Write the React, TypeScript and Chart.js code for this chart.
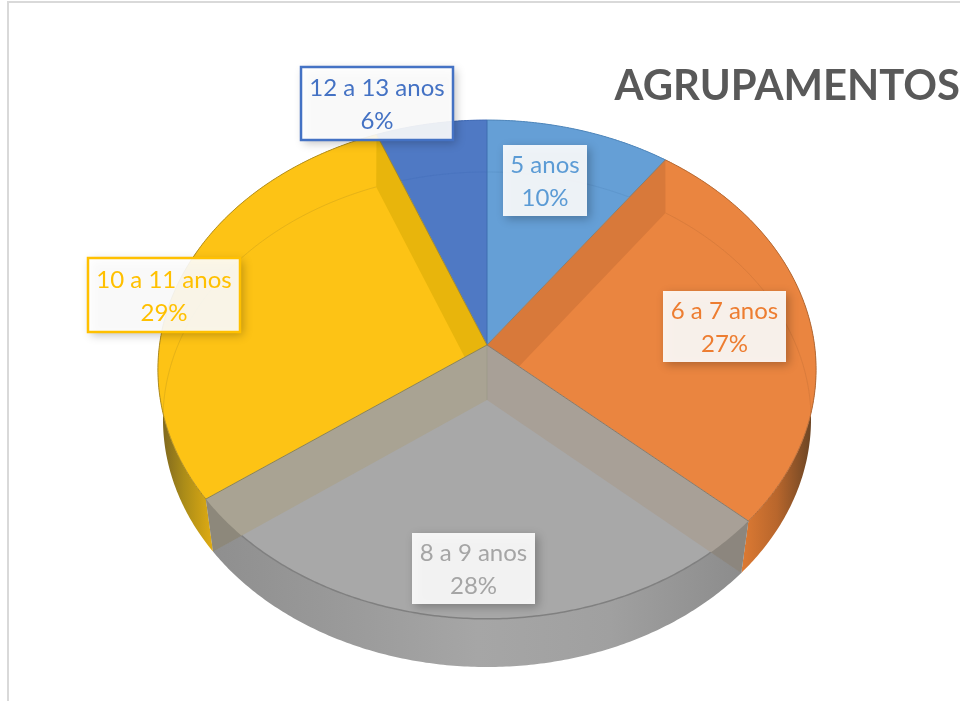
import React, { useEffect, useRef } from "react";
import { Chart, registerables } from "chart.js";

Chart.register(...registerables);

const categories = ["5 anos", "6 a 7 anos", "8 a 9 anos", "10 a 11 anos", "12 a 13 anos"];
const shares = [10, 26.6, 28.4, 29, 6];
const chartTitle = "AGRUPAMENTOS";

const faceColors = ["#659fd6", "#ea8540", "#a8a8a8", "#fdc315", "#4f79c4"];
const labelColors = ["#5b9bd5", "#ed7d31", "#a5a5a5", "#ffc000", "#4472c4"];
const edgeColors = ["#4f86ba", "#b56a35", "#808080", "#b08d20", "#3f69b5"];
const labelBoxes = [
  { x: 503, y: 145, w: 84, h: 71, border: false },
  { x: 663, y: 291, w: 123, h: 71, border: false },
  { x: 412, y: 533, w: 123, h: 71, border: false },
  { x: 88, y: 258, w: 152, h: 74, border: true },
  { x: 301, y: 67, w: 152, h: 73, border: true },
];

const CX = 487;
const TOP = { cy: 345, rx: 327.5, ry: 247, c: -0.098 };
const BOT = { cy: 400, rx: 323, ry: 246, c: -0.0788 };
type Disc = typeof TOP;

function pt(theta: number, r: number, d: Disc): [number, number] {
  const u = r * Math.sin(theta);
  const v = -r * Math.cos(theta);
  const k = 1 + d.c * v;
  return [CX + (d.rx * u) / k, d.cy + (d.ry * v) / k];
}

function arcPts(t0: number, t1: number, d: Disc): [number, number][] {
  const n = Math.max(2, Math.ceil(Math.abs(t1 - t0) / 0.01));
  const out: [number, number][] = [];
  for (let i = 0; i <= n; i++) out.push(pt(t0 + ((t1 - t0) * i) / n, 1, d));
  return out;
}

function poly(ctx: CanvasRenderingContext2D, pts: [number, number][], close = true) {
  ctx.beginPath();
  pts.forEach((p, i) => (i ? ctx.lineTo(p[0], p[1]) : ctx.moveTo(p[0], p[1])));
  if (close) ctx.closePath();
}

function hGrad(ctx: CanvasRenderingContext2D, x0: number, x1: number, stops: [number, string][]) {
  const g = ctx.createLinearGradient(x0, 0, x1, 0);
  stops.forEach(([o, c]) => g.addColorStop(o, c));
  return g;
}

const pie3d = {
  id: "pie3d",
  beforeDatasetDraw(chart: any) {
    const ctx: CanvasRenderingContext2D = chart.ctx;
    const arcs = chart.getDatasetMeta(0).data.map((a: any) => {
      const p = a.getProps(["startAngle", "endAngle"], true);
      return { t0: p.startAngle + Math.PI / 2, t1: p.endAngle + Math.PI / 2 };
    });
    const sideFill = [
      "#5b8fc4",
      hGrad(ctx, 742, 812, [[0, "#dd7a33"], [0.5, "#b8662c"], [1, "#6a4424"]]),
      hGrad(ctx, 213, 742, [[0, "#8f8f8f"], [0.25, "#9a9a9a"], [0.5, "#a6a6a6"], [0.75, "#a0a0a0"], [1, "#8c8c8c"]]),
      hGrad(ctx, 160, 213, [[0, "#7a6420"], [0.45, "#ab8c18"], [1, "#e0ac12"]]),
      "#3f68b0",
    ];
    ctx.save();
    arcs.forEach((a: any, i: number) => {
      poly(ctx, [...arcPts(a.t0, a.t1, TOP), ...arcPts(a.t1, a.t0, BOT)]);
      ctx.fillStyle = sideFill[i];
      ctx.fill();
    });
    const facePath = (a: any) => poly(ctx, [[CX, TOP.cy], ...arcPts(a.t0, a.t1, TOP)]);
    arcs.forEach((a: any, i: number) => {
      facePath(a);
      ctx.fillStyle = faceColors[i];
      ctx.fill();
    });
    arcs.forEach((a: any, i: number) => {
      ctx.save();
      facePath(a);
      ctx.clip();
      poly(ctx, arcPts(a.t0, a.t1, BOT), false);
      ctx.strokeStyle = edgeColors[i];
      ctx.globalAlpha = 0.3;
      ctx.lineWidth = 1;
      ctx.stroke();
      ctx.restore();
    });
    const wall = (t: number) => [[CX, TOP.cy], pt(t, 1, TOP), pt(t, 1, BOT), [CX, BOT.cy]] as [number, number][];
    ctx.save();
    facePath(arcs[1]);
    ctx.clip();
    poly(ctx, wall(arcs[1].t0));
    ctx.fillStyle = "#d8793a";
    ctx.fill();
    ctx.restore();
    ctx.save();
    facePath(arcs[3]);
    ctx.clip();
    poly(ctx, wall(arcs[3].t1));
    ctx.fillStyle = "#e8b50c";
    ctx.fill();
    ctx.restore();
    poly(ctx, arcPts(arcs[2].t0, arcs[2].t1, TOP), false);
    ctx.strokeStyle = edgeColors[2];
    ctx.lineWidth = 1.5;
    ctx.stroke();
    const greyWalls: [number, string][] = [[arcs[2].t1, "#a9a393"], [arcs[2].t0, "#a8a097"]];
    greyWalls.forEach(([t, color]) => {
      poly(ctx, wall(t));
      ctx.fillStyle = color;
      ctx.fill();
      ctx.save();
      poly(ctx, wall(t));
      ctx.clip();
      poly(ctx, [...arcPts(arcs[2].t0, arcs[2].t1, TOP), ...arcPts(arcs[2].t1, arcs[2].t0, BOT)]);
      ctx.fillStyle = "rgba(70,70,60,0.28)";
      ctx.fill();
      ctx.restore();
    });
    poly(ctx, [[CX, TOP.cy], [CX, BOT.cy]], false);
    ctx.strokeStyle = "rgba(150,150,130,0.5)";
    ctx.lineWidth = 1;
    ctx.stroke();
    arcs.forEach((a: any, i: number) => {
      if (i === 2) return;
      poly(ctx, arcPts(a.t0, a.t1, TOP), false);
      ctx.strokeStyle = edgeColors[i];
      ctx.lineWidth = 1;
      ctx.stroke();
    });
    [
      [arcs[0].t0, "#3f6fb0"],
      [arcs[0].t1, "#80807a"],
      [arcs[1].t1, "#8a7a68"],
      [arcs[2].t1, "#8f8550"],
      [arcs[3].t1, "#a08a30"],
    ].forEach(([t, c]: any) => {
      poly(ctx, [[CX, TOP.cy], pt(t, 1, TOP)], false);
      ctx.strokeStyle = c;
      ctx.lineWidth = 1;
      ctx.stroke();
    });
    ctx.restore();
    return false;
  },
  afterDatasetsDraw(chart: any) {
    const ctx: CanvasRenderingContext2D = chart.ctx;
    const total = shares.reduce((s, v) => s + v, 0);
    ctx.save();
    categories.forEach((name, i) => {
      const b = labelBoxes[i];
      ctx.save();
      ctx.shadowColor = "rgba(0,0,0,0.28)";
      ctx.shadowBlur = 9;
      ctx.shadowOffsetX = 3;
      ctx.shadowOffsetY = 3;
      ctx.fillStyle = "rgba(255,255,255,0.9)";
      ctx.fillRect(b.x, b.y, b.w, b.h);
      ctx.restore();
      if (b.border) {
        ctx.strokeStyle = labelColors[i];
        ctx.lineWidth = 2.5;
        ctx.strokeRect(b.x, b.y, b.w, b.h);
      }
      ctx.fillStyle = labelColors[i];
      ctx.font = "24px Lato";
      ctx.textAlign = "center";
      ctx.textBaseline = "middle";
      const mx = b.x + b.w / 2;
      const my = b.y + b.h / 2;
      ctx.fillText(name, mx, my - 15);
      ctx.fillText(`${Math.round((shares[i] / total) * 100)}%`, mx, my + 18);
    });
    ctx.restore();
  },
};

export default function App() {
  const ref = useRef<HTMLCanvasElement>(null);
  useEffect(() => {
    const chart = new Chart(ref.current!, {
      type: "pie",
      data: {
        labels: categories,
        datasets: [{ data: shares, backgroundColor: faceColors, borderWidth: 0 }],
      },
      options: {
        animation: false,
        responsive: false,
        events: [],
        plugins: {
          legend: { display: false },
          tooltip: { enabled: false },
          title: {
            display: true,
            text: chartTitle,
            align: "end",
            color: "#595959",
            font: { family: "Lato", weight: "bold", size: 41.8 },
            padding: { top: 61, bottom: 0 },
          },
        },
      },
      plugins: [pie3d as any],
    });
    return () => chart.destroy();
  }, []);
  return (
    <div style={{ position: "absolute", left: 0, top: 0, width: 960, height: 701, overflow: "hidden", background: "#fff" }}>
      <div style={{ position: "absolute", left: 7, top: 1, right: 0, bottom: 0, borderLeft: "2px solid #d9d9d9", borderTop: "2px solid #d9d9d9" }} />
      <canvas ref={ref} width={960} height={701} style={{ position: "absolute", left: 0, top: 0, display: "block" }} />
    </div>
  );
}
